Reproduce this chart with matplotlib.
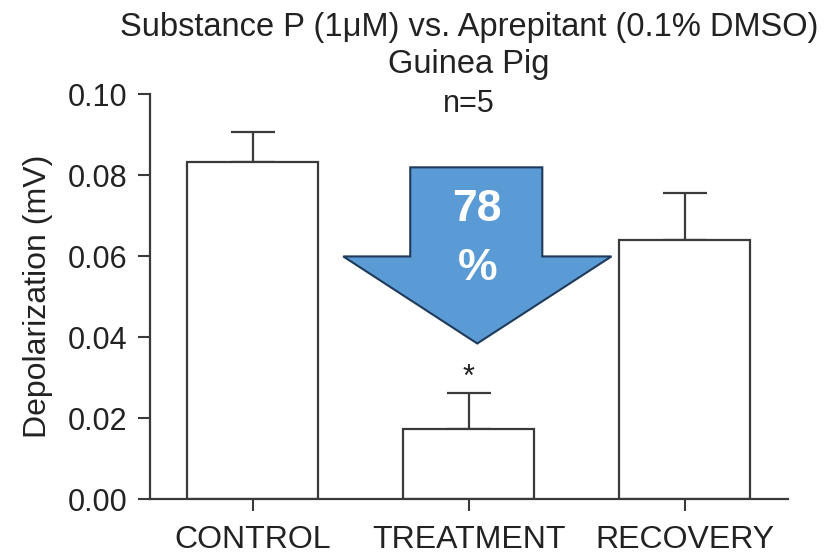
import matplotlib
matplotlib.use('Agg')
import matplotlib.pyplot as plt
from matplotlib.patches import Polygon

plt.rcParams['font.family'] = ['Liberation Sans', 'DejaVu Sans']

# data
groups = ['CONTROL', 'TREATMENT', 'RECOVERY']
means = [0.0832, 0.0172, 0.0639]
sems = [0.0074, 0.0089, 0.0116]
reduction = '78'

line_col = '#3a3a3a'
txt_col = '#222222'

fig = plt.figure(figsize=(8.27, 5.58), dpi=100)
ax = fig.add_axes([0.1814, 0.1057, 0.7715, 0.7258])

x = list(range(len(groups)))
ax.bar(x, means, width=0.606, color='white', edgecolor=line_col, linewidth=1.6, zorder=2)
ax.errorbar(x, means, yerr=[[0] * len(sems), sems], fmt='none', ecolor=line_col,
            elinewidth=1.6, capsize=16, capthick=1.6, zorder=1)

ax.set_xlim(-0.475, 2.477)
ax.set_ylim(0, 0.10)
ax.set_yticks([0.00, 0.02, 0.04, 0.06, 0.08, 0.10])
ax.set_yticklabels(['%.2f' % v for v in [0.00, 0.02, 0.04, 0.06, 0.08, 0.10]])
ax.set_xticks(x)
ax.set_xticklabels(groups)
ax.tick_params(axis='both', length=8.5, width=1.5, color=line_col,
               labelcolor=txt_col, direction='out')
ax.tick_params(axis='y', labelsize=22, pad=8)
ax.tick_params(axis='x', labelsize=23, pad=10)

for side in ['top', 'right']:
    ax.spines[side].set_visible(False)
for side in ['left', 'bottom']:
    ax.spines[side].set_color(line_col)
    ax.spines[side].set_linewidth(1.6)

ax.set_ylabel('Depolarization (mV)', fontsize=23, color=txt_col, labelpad=10)
ax.set_title('Substance P (1\u03bcM) vs. Aprepitant (0.1% DMSO)\nGuinea Pig',
             fontsize=23.5, color=txt_col, pad=15, linespacing=1.27)
ax.text(1.0, 0.0976, 'n=5', ha='center', va='center', fontsize=22, color=txt_col)

# down arrow annotation
arrow = Polygon([(0.729, 0.0819), (1.340, 0.0819), (1.340, 0.0599), (1.660, 0.0599),
                 (1.039, 0.0384), (0.419, 0.0599), (0.729, 0.0599)],
                closed=True, facecolor='#5b9bd5', edgecolor='#1f3a5a', linewidth=1.5, zorder=3)
ax.add_patch(arrow)
ax.text(1.039, 0.0715, reduction, ha='center', va='center', fontsize=32,
        fontweight='bold', color='white', zorder=4)
ax.text(1.039, 0.0570, '%', ha='center', va='center', fontsize=32,
        fontweight='bold', color='white', zorder=4)
ax.text(1.0, 0.0300, '*', ha='center', va='center', fontsize=22, color=txt_col)

fig.savefig('out.png', dpi=100)
